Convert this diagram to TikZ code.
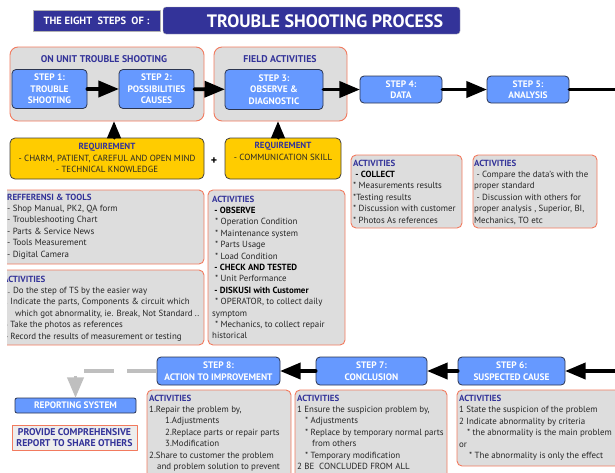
\documentclass[tikz,border=0pt]{standalone}
\usepackage{fontspec}
\setmainfont{PT Sans}
\usepackage{tikz}
\usetikzlibrary{arrows}

\definecolor{headblue}{HTML}{333399}
\definecolor{stepblue}{HTML}{6699FF}
\definecolor{stepedge}{HTML}{2B3550}
\definecolor{boxgrey}{HTML}{DDDDDD}
\definecolor{edgeorange}{HTML}{F27A5E}
\definecolor{reqyellow}{HTML}{FFCC00}

\begin{document}
\begin{tikzpicture}[x=1pt,y=-1pt,line cap=round,line join=round,>=triangle 45,
    stepbox/.style={draw=stepedge,fill=stepblue,rounded corners=4pt,line width=0.8pt,text=white,align=center,inner sep=0pt,font=\bfseries\fontsize{9.4}{11.5}\selectfont},
    groupbox/.style={draw=edgeorange,fill=boxgrey,rounded corners=8pt,line width=0.9pt},
    actbox/.style={draw=edgeorange,fill=boxgrey,rounded corners=5pt,line width=0.9pt},
    reqbox/.style={draw=black!75,fill=reqyellow,rounded corners=5pt,line width=0.8pt},
    grouptitle/.style={text=headblue,inner sep=0pt,font=\bfseries\fontsize{9.8}{11}\selectfont},
    bodytext/.style={anchor=north west,align=left,inner sep=0pt,text=black!85,font=\fontsize{8.9}{11.4}\selectfont},
    reqtext/.style={align=center,inner sep=0pt,text=black!85,font=\fontsize{8.9}{11.5}\selectfont},
    flow/.style={->,line width=3.8pt},
    upflow/.style={->,line width=3pt},
    greyflow/.style={->,draw=black!25,line width=3.8pt,line cap=butt,dash pattern=on 30pt off 13pt}]
    \useasboundingbox (0,0) rectangle (615,472);
    \clip (0,0) rectangle (615,472);
    \newcommand{\acttitle}{\textcolor{headblue}{\bfseries ACTIVITIES}}

    % title
    \node[draw=black!30,fill=headblue,minimum width=127pt,minimum height=21pt,inner sep=0pt,text=white,font=\bfseries\fontsize{10.5}{12}\selectfont] (eight) at (96.5,20.5) {THE EIGHT\ \ STEPS\ \ OF :};
    \node[draw=black!30,fill=headblue,rounded corners=3pt,minimum width=297pt,minimum height=27pt,inner sep=0pt] (process) at (311.5,20.5) {};
    \node[text=white,inner sep=0pt,font=\bfseries\fontsize{18}{21}\selectfont] (processtxt) at (325,21) {TROUBLE SHOOTING PROCESS};

    % groups
    \node[groupbox,minimum width=194pt,minimum height=74pt] (unit) at (107,84) {};
    \node[grouptitle] (unittxt) at (104,59) {ON UNIT TROUBLE SHOOTING};
    \node[groupbox,minimum width=133pt,minimum height=74pt] (field) at (280.5,84) {};
    \node[grouptitle] (fieldtxt) at (280,59) {FIELD ACTIVITIES};

    % steps, top row
    \node[stepbox,minimum width=75pt,minimum height=39pt] (s1) at (49.5,89) {STEP 1:\\TROUBLE\\SHOOTING};
    \node[stepbox,minimum width=75pt,minimum height=39pt] (s2) at (156.5,89) {STEP 2:\\POSSIBILITIES\\CAUSES};
    \node[stepbox,minimum width=98pt,minimum height=40pt] (s3) at (274,89.5) {STEP 3:\\OBSERVE \&\\DIAGNOSTIC};
    \node[stepbox,minimum width=82pt,minimum height=27pt] (s4) at (401,89.5) {STEP 4:\\DATA};
    \node[stepbox,minimum width=82pt,minimum height=27pt] (s5) at (528,89.5) {STEP 5:\\ANALYSIS};
    \coordinate (edge5) at (620,89.5);

    \draw[flow] (s1) -- (s2);
    \draw[flow] (s2) -- (s3);
    \draw[flow] (s3) -- (s4);
    \draw[flow] (s4) -- (s5);
    \draw[line width=3.8pt] (s5) -- (edge5);

    % requirements
    \node[reqbox,minimum width=194pt,minimum height=41pt] (req1) at (107,158.5) {};
    \node[reqtext] (req1txt) at (107,158) {\textcolor{headblue}{\bfseries REQUIREMENT}\\- CHARM, PATIENT, CAREFUL AND OPEN MIND\\- TECHNICAL KNOWLEDGE};
    \node[font=\bfseries\fontsize{12}{13}\selectfont,inner sep=0pt] (plus) at (214,161) {+};
    \node[reqbox,minimum width=116pt,minimum height=41pt] (req2) at (283,158.5) {};
    \node[reqtext,anchor=north] (req2txt) at (283,142) {\textcolor{headblue}{\bfseries REQUIREMENT}\\- COMMUNICATION SKILL};
    \coordinate (up1) at (114,138);
    \coordinate (up2) at (278,138);
    \draw[upflow] (up1) -- (up1 |- unit.south);
    \draw[upflow] (up2) -- (up2 |- field.south);

    % left boxes
    \begin{scope}
        \clip (7,0) rectangle (615,472);
        \node[actbox,minimum width=214pt,minimum height=74pt] (refs) at (97,227) {};
        \node[bodytext] (refstxt) at (7,193.5) {\textcolor{headblue}{\bfseries REFFERENSI \& TOOLS}\\- Shop Manual, PK2, QA form\\- Troubleshooting Chart\\- Parts \& Service News\\- Tools Measurement\\- Digital Camera};
        \node[actbox,minimum width=214pt,minimum height=75pt] (act1) at (97,307.5) {};
        \node[bodytext] (act1txt) at (3,275.5) {\acttitle\\1. Do the step of TS by the easier way\\2 Indicate the parts, Components \& circuit which\\\hspace*{12pt}which got abnormality, ie. Break, Not Standard ..\\3 Take the photos as references\\4 Record the results of measurement or testing};
    \end{scope}

    \node[actbox,minimum width=137pt,minimum height=155pt] (act3) at (276.5,267.5) {};
    \node[bodytext] (act3txt) at (212,195.5) {\acttitle\\\textcolor{black}{\bfseries\ - OBSERVE}\\\hspace*{3pt}* Operation Condition\\\hspace*{3pt}* Maintenance system\\\hspace*{3pt}* Parts Usage\\\hspace*{3pt}* Load Condition\\\textcolor{black}{\bfseries\ - CHECK AND TESTED}\\\hspace*{3pt}* Unit Performance\\\textcolor{black}{\bfseries\ - DISKUSI with Customer}\\\hspace*{3pt}* OPERATOR, to collect daily\\symptom\\\hspace*{3pt}* Mechanics, to collect repair\\historical};

    \node[actbox,minimum width=111pt,minimum height=73pt] (act4) at (406.5,191.5) {};
    \node[bodytext] (act4txt) at (353,159.5) {\acttitle\\\textcolor{black}{\bfseries\ - COLLECT}\\* Measurements results\\*Testing results\\* Discussion with customer\\* Photos As references};
    \node[actbox,minimum width=124pt,minimum height=73pt] (act5) at (535,191.5) {};
    \node[bodytext] (act5txt) at (474,159.5) {\acttitle\\\ - Compare the data's with the\\proper standard\\\ - Discussion with others for\\proper analysis , Superior, BI,\\Mechanics, TO etc};

    % steps, bottom row
    \node[stepbox,minimum width=107pt,minimum height=28pt] (s6) at (511.5,371) {STEP 6:\\SUSPECTED CAUSE};
    \node[stepbox,minimum width=111pt,minimum height=28pt] (s7) at (371.5,371) {STEP 7:\\CONCLUSION};
    \node[stepbox,minimum width=123pt,minimum height=28pt] (s8) at (218.5,371) {STEP 8:\\ACTION TO IMPROVEMENT};
    \coordinate (edge6) at (620,371);

    \draw[flow] (edge6) -- (s6);
    \draw[flow] (s6) -- (s7);
    \draw[flow] (s7) -- (s8);

    \node[stepbox,minimum width=121pt,minimum height=15pt,rounded corners=2pt] (report) at (75.5,405.5) {REPORTING SYSTEM};
    \draw[greyflow] (s8.west) -| (report.north);
    \node[draw=edgeorange,fill=black!7,line width=0.9pt,minimum width=125pt,minimum height=25pt,inner sep=0pt,align=center,text=headblue,font=\bfseries\fontsize{9.8}{11.5}\selectfont] (provide) at (74.5,437.5) {PROVIDE COMPREHENSIVE\\REPORT TO SHARE OTHERS};

    \node[actbox,minimum width=144pt,minimum height=100pt] (act8) at (219,440) {};
    \node[bodytext] (act8txt) at (149,394.5) {\acttitle\\1.Repair the problem by,\\\hspace*{16pt}1.Adjustments\\\hspace*{16pt}2.Replace parts or repair parts\\\hspace*{16pt}3.Modification\\2.Share to customer the problem\\\hspace*{8pt}and problem solution to prevent};
    \node[actbox,minimum width=152pt,minimum height=100pt] (act7) at (371,440) {};
    \node[bodytext] (act7txt) at (297,394.5) {\acttitle\\1 Ensure the suspicion problem by,\\\hspace*{8pt}* Adjustments\\\hspace*{8pt}* Replace by temporary normal parts\\\hspace*{15pt}from others\\\hspace*{8pt}* Temporary modification\\2 BE\ \ CONCLUDED FROM ALL};
    \node[actbox,minimum width=170pt,minimum height=76pt] (act6) at (542,428) {};
    \node[bodytext] (act6txt) at (459,395) {\acttitle\\1 State the suspicion of the problem\\2 Indicate abnormality by criteria\\\hspace*{8pt}* the abnormality is the main problem\\or\\\hspace*{10pt}* The abnormality is only the effect};
\end{tikzpicture}
\end{document}
